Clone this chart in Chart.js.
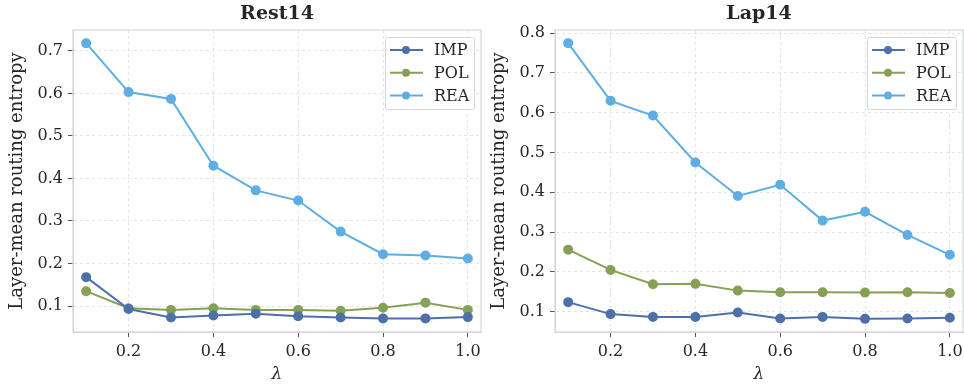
<!DOCTYPE html>
<html>
<head>
<meta charset="utf-8">
<script src="https://cdn.jsdelivr.net/npm/chart.js@4.4.1/dist/chart.umd.min.js"></script>
<style>
  html, body { margin: 0; padding: 0; background: #fff; }
  #wrap { display: flex; width: 964px; height: 385px; }
  .box { position: relative; width: 482px; height: 385px; }
</style>
</head>
<body>
<div id="wrap">
  <div class="box"><canvas id="rest"></canvas></div>
  <div class="box"><canvas id="lap"></canvas></div>
</div>
<script>
const lambdas = [0.1, 0.2, 0.3, 0.4, 0.5, 0.6, 0.7, 0.8, 0.9, 1.0];

const restImp = [0.168, 0.093, 0.073, 0.078, 0.082, 0.076, 0.073, 0.071, 0.071, 0.074];
const restPol = [0.135, 0.095, 0.091, 0.095, 0.091, 0.091, 0.089, 0.096, 0.108, 0.091];
const restRea = [0.718, 0.603, 0.587, 0.430, 0.372, 0.348, 0.275, 0.222, 0.219, 0.212];

const lapImp = [0.124, 0.094, 0.087, 0.087, 0.098, 0.083, 0.087, 0.082, 0.083, 0.085];
const lapPol = [0.256, 0.205, 0.169, 0.170, 0.153, 0.149, 0.149, 0.148, 0.149, 0.147];
const lapRea = [0.775, 0.630, 0.593, 0.475, 0.391, 0.419, 0.329, 0.351, 0.293, 0.243];

const xTicks = [0.2, 0.4, 0.6, 0.8, 1.0];
const restYTicks = [0.1, 0.2, 0.3, 0.4, 0.5, 0.6, 0.7];
const lapYTicks = [0.1, 0.2, 0.3, 0.4, 0.5, 0.6, 0.7, 0.8];

const seriesNames = ['IMP', 'POL', 'REA'];
const seriesColors = ['#4e70a8', '#86a055', '#5eaee4'];

const FONT = '"DejaVu Serif", serif';
const TEXT = '#262626';

// axes frame on all four sides
const frame = {
  id: 'frame',
  beforeDatasetsDraw(chart) {
    const { ctx, chartArea: a } = chart;
    ctx.save();
    ctx.strokeStyle = '#d3d6e0';
    ctx.lineWidth = 1.2;
    ctx.strokeRect(a.left, a.top, a.right - a.left, a.bottom - a.top);
    ctx.restore();
  }
};

// matplotlib style legend inside the upper right corner
const boxLegend = {
  id: 'boxLegend',
  afterDatasetsDraw(chart) {
    const { ctx, chartArea: a } = chart;
    const w = 89, h = 72;
    const x0 = a.right - 96, y0 = a.top + 7;
    ctx.save();
    ctx.fillStyle = 'rgba(255,255,255,0.85)';
    ctx.strokeStyle = '#d6d6d6';
    ctx.lineWidth = 1;
    ctx.beginPath();
    ctx.roundRect(x0 + 0.5, y0 + 0.5, w, h, 2);
    ctx.fill();
    ctx.stroke();
    ctx.font = '16px ' + FONT;
    ctx.textBaseline = 'middle';
    chart.data.datasets.forEach((ds, i) => {
      const y = y0 + 13 + i * 22.7;
      ctx.strokeStyle = ds.borderColor;
      ctx.lineWidth = 2;
      ctx.beginPath();
      ctx.moveTo(x0 + 5, y);
      ctx.lineTo(x0 + 38, y);
      ctx.stroke();
      ctx.fillStyle = ds.borderColor;
      ctx.beginPath();
      ctx.arc(x0 + 21, y, 4, 0, Math.PI * 2);
      ctx.fill();
      ctx.fillStyle = TEXT;
      ctx.fillText(ds.label, x0 + 49, y + 1);
    });
    ctx.restore();
  }
};

function makeChart(id, title, series, yMin, yMax, yTicks) {
  const datasets = series.map((vals, i) => ({
    label: seriesNames[i],
    data: lambdas.map((x, j) => ({ x: x, y: vals[j] })),
    borderColor: seriesColors[i],
    backgroundColor: seriesColors[i],
    borderWidth: 2,
    pointRadius: 4,
    pointHoverRadius: 4,
    tension: 0
  }));

  new Chart(document.getElementById(id), {
    type: 'line',
    data: { datasets: datasets },
    plugins: [frame, boxLegend],
    options: {
      responsive: true,
      maintainAspectRatio: false,
      animation: false,
      layout: { autoPadding: false, padding: { left: 0, right: 1, top: 0, bottom: 0 } },
      plugins: {
        legend: { display: false },
        tooltip: { enabled: false },
        title: {
          display: true,
          fullSize: false,
          text: title,
          color: TEXT,
          font: { family: FONT, size: 19, weight: 'bold', lineHeight: 1.2 },
          padding: { top: 3, bottom: 4.2 }
        }
      },
      scales: {
        x: {
          type: 'linear',
          min: 0.069,
          max: 1.031,
          afterBuildTicks: s => { s.ticks = xTicks.map(v => ({ value: v })); },
          afterFit: s => { s.height = 53; s.paddingLeft = 0; s.paddingRight = 0; },
          ticks: {
            color: TEXT,
            font: { family: FONT, size: 16, lineHeight: 1.2 },
            padding: 5,
            maxRotation: 0,
            callback: v => v.toFixed(1)
          },
          grid: {
            color: '#e4e4e4',
            lineWidth: 1,
            tickLength: 5,
            tickColor: '#555',
            tickBorderDash: []
          },
          border: { display: true, color: '#d3d6e0', dash: [3, 3] },
          title: {
            display: true,
            text: 'λ',
            color: TEXT,
            font: { family: FONT, size: 17, style: 'italic', lineHeight: 1.2 },
            padding: { top: 0, bottom: 0 }
          }
        },
        y: {
          type: 'linear',
          min: yMin,
          max: yMax,
          afterBuildTicks: s => { s.ticks = yTicks.map(v => ({ value: v })); },
          afterFit: s => { s.width = 73; s.paddingTop = 0; s.paddingBottom = 0; },
          ticks: {
            color: TEXT,
            font: { family: FONT, size: 16, lineHeight: 1.2 },
            padding: 5,
            callback: v => v.toFixed(1)
          },
          grid: {
            color: '#e4e4e4',
            lineWidth: 1,
            tickLength: 5,
            tickColor: '#555',
            tickBorderDash: []
          },
          border: { display: true, color: '#d3d6e0', dash: [3, 3] },
          title: {
            display: true,
            text: 'Layer-mean routing entropy',
            color: TEXT,
            font: { family: FONT, size: 18, lineHeight: 1.2 },
            padding: { top: 6.7, bottom: 0 }
          }
        }
      }
    }
  });
}

makeChart('rest', 'Rest14', [restImp, restPol, restRea], 0.039, 0.749, restYTicks);
makeChart('lap', 'Lap14', [lapImp, lapPol, lapRea], 0.049, 0.808, lapYTicks);
</script>
</body>
</html>
